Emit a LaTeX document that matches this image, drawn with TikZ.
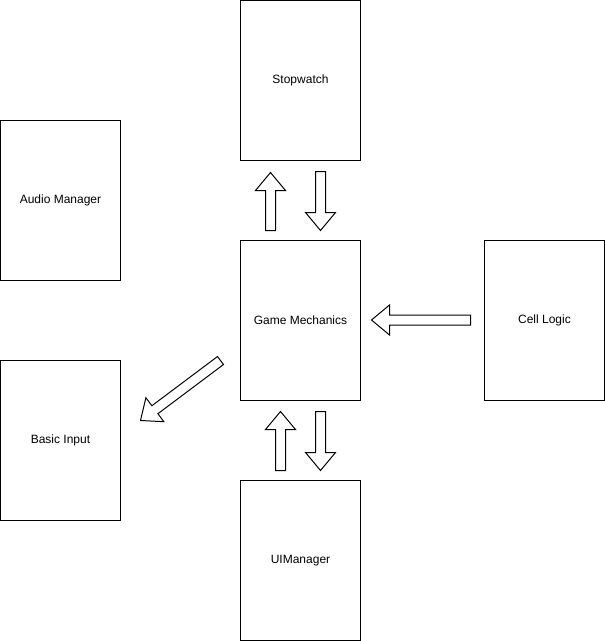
\documentclass[tikz,border=0pt]{standalone}
\usepackage{fontspec}
\setmainfont{Liberation Sans}
\begin{document}
\begin{tikzpicture}[x=1pt,y=-1pt,
  box/.style={draw=black,line width=1pt,minimum width=120pt,minimum height=160pt,inner sep=0pt,font=\fontsize{12}{14}\selectfont},
  arrowshape/.style={draw=black,line width=1pt,fill=white,line join=miter}]
\useasboundingbox (-0.5,-0.5) rectangle (604.5,640.5);
\newcommand\blockarrow[3]{%
  \draw[arrowshape,shift={#1},rotate=#2] (0,-5) -- ({#3-18},-5) -- ({#3-18},-15) -- (#3,0) -- ({#3-18},15) -- ({#3-18},5) -- (0,5) -- cycle;}
\node[box] (sw) at (300,80) {Stopwatch};
\node[box] (am) at (60,200) {Audio Manager};
\node[box] (gm) at (300,320) {Game Mechanics};
\node[box] (cl) at (544,320) {Cell Logic};
\node[box] (bi) at (60,440) {Basic Input};
\node[box] (ui) at (300,560) {UIManager};
% block arrows
\blockarrow{(270,230)}{90}{58}
\blockarrow{(320,171)}{-90}{59}
\blockarrow{(280,470)}{90}{59}
\blockarrow{(320,411)}{-90}{59}
\blockarrow{(470,319.5)}{180}{99}
\blockarrow{(220,360)}{216.87}{100}
\end{tikzpicture}
\end{document}
